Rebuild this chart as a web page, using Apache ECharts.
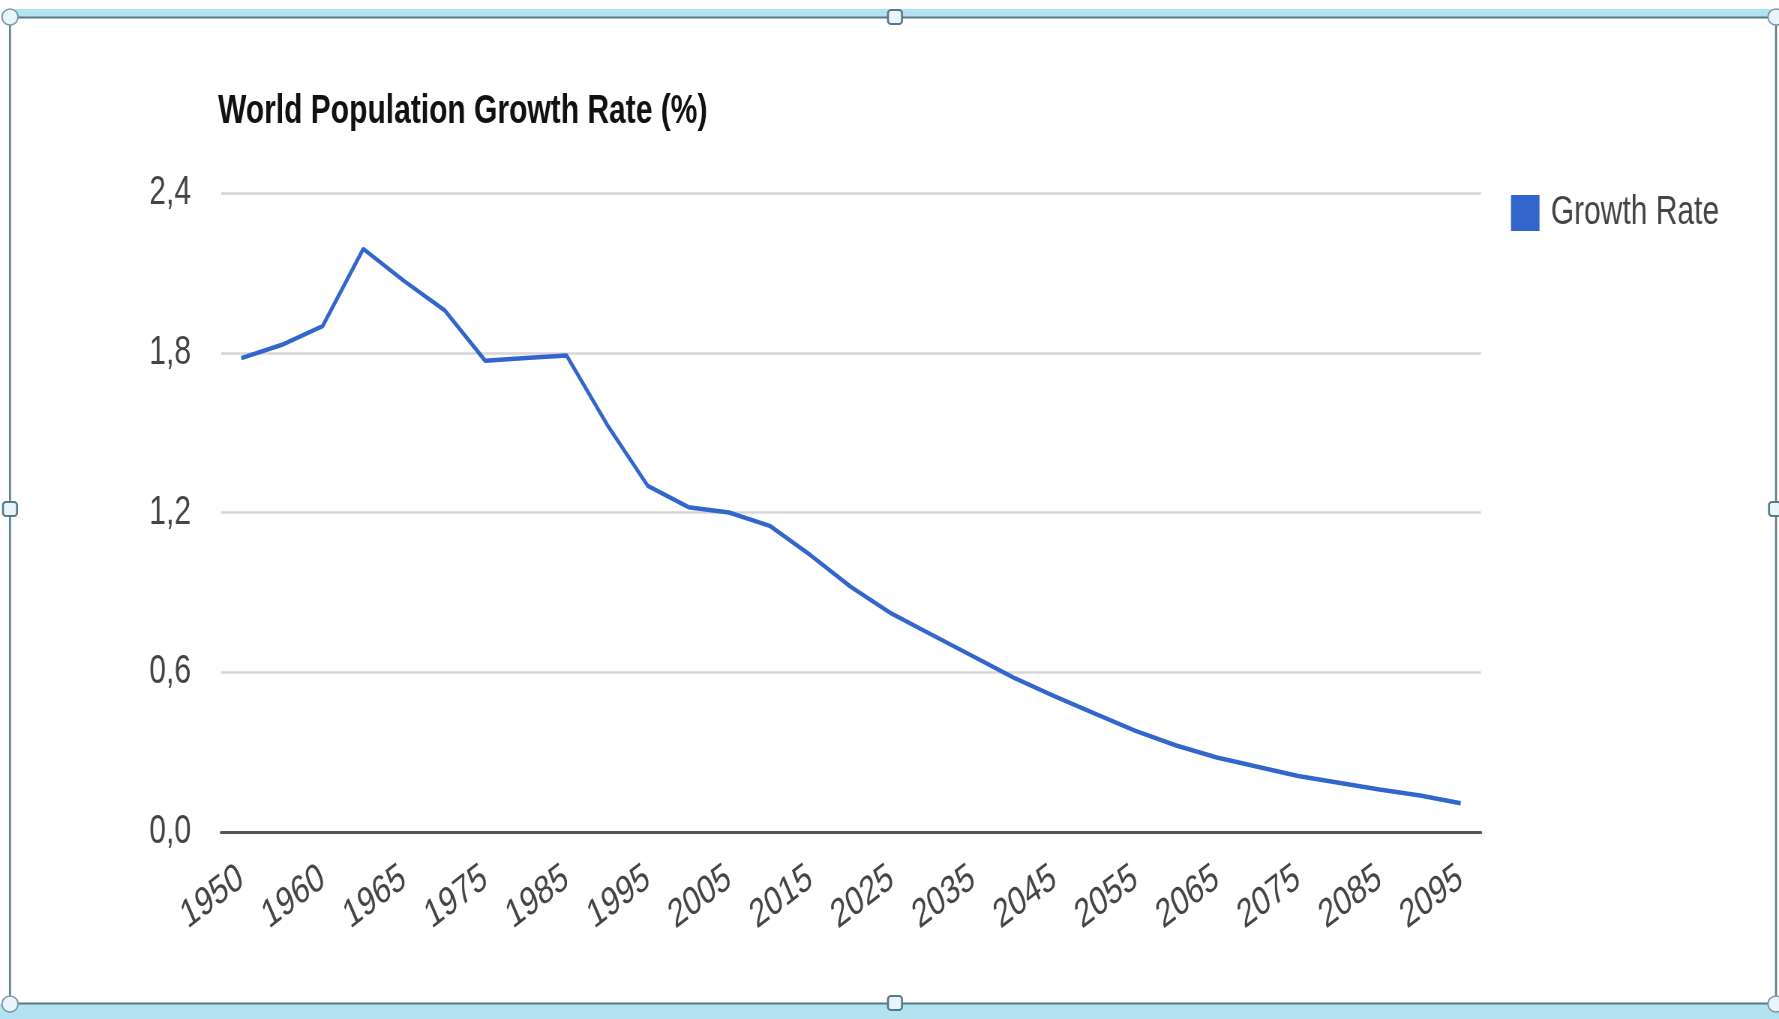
<!DOCTYPE html>
<html>
<head>
<meta charset="utf-8">
<title>World Population Growth Rate (%)</title>
<script src="https://cdn.jsdelivr.net/npm/echarts@6/dist/echarts.min.js"></script>
<style>
  html, body { margin: 0; padding: 0; background: #ffffff; }
  #wrap { width: 1779px; height: 1019px; overflow: hidden; position: relative; }
  /* the chart is laid out wider and squeezed horizontally, giving the narrow, tall lettering */
  #chart { width: 2372px; height: 1019px; transform: scaleX(0.75); transform-origin: 0 0; }
</style>
</head>
<body>
<div id="wrap"><div id="chart"></div></div>
<script>
// horizontal squeeze applied to the chart canvas
const SX = 0.75;

// years on the category axis
const years = [
  '1950', '1955', '1960', '1963', '1965', '1970', '1975', '1980', '1985', '1990',
  '1995', '2000', '2005', '2010', '2015', '2020', '2025', '2030', '2035', '2040',
  '2045', '2050', '2055', '2060', '2065', '2070', '2075', '2080', '2085', '2090',
  '2095'
];

// annual growth rate of world population, percent
const growthRate = [
  1.78, 1.83, 1.90, 2.19, 2.07, 1.96, 1.77, 1.78, 1.79, 1.53,
  1.30, 1.22, 1.20, 1.15, 1.04, 0.92, 0.82, 0.74, 0.66, 0.58,
  0.51, 0.445, 0.38, 0.325, 0.28, 0.245, 0.21, 0.185, 0.16, 0.137,
  0.108
];

// value axis ticks
const yTicks = [0, 0.6, 1.2, 1.8, 2.4];

const seriesName = 'Growth Rate';
const chartTitle = 'World Population Growth Rate (%)';

const FONT = '"Liberation Sans", Arial, Helvetica, sans-serif';
const X = v => v / SX; // page pixels -> chart pixels (horizontal)

// selection frame drawn around the chart
const frameStroke = '#58798a';
const bandFill = '#b3e3f1';
const handleFill = '#eaf5fb';

function handleSquare(cx, cy) {
  return {
    type: 'rect', x: X(cx), y: cy, scaleX: 1 / SX,
    shape: { x: -7, y: -7, width: 14, height: 14, r: 3 },
    style: { fill: handleFill, stroke: frameStroke, lineWidth: 2 },
    z: 10
  };
}
function handleCircle(cx, cy) {
  return {
    type: 'circle', x: X(cx), y: cy, scaleX: 1 / SX,
    shape: { cx: 0, cy: 0, r: 8 },
    style: { fill: handleFill, stroke: '#7d98a4', lineWidth: 1.5 },
    z: 10
  };
}

const frame = [
  { type: 'rect', shape: { x: X(10), y: 9, width: X(1766), height: 8 }, style: { fill: bandFill }, z: 5 },
  { type: 'rect', shape: { x: 0, y: 1004, width: X(1779), height: 15 }, style: { fill: bandFill }, z: 5 },
  { type: 'line', shape: { x1: X(10), y1: 17.5, x2: X(1776), y2: 17.5 }, style: { stroke: frameStroke, lineWidth: 2 }, z: 6 },
  { type: 'line', shape: { x1: X(10), y1: 1003.5, x2: X(1776), y2: 1003.5 }, style: { stroke: frameStroke, lineWidth: 2 }, z: 6 },
  { type: 'line', shape: { x1: X(10), y1: 17, x2: X(10), y2: 1004 }, style: { stroke: frameStroke, lineWidth: 2.5 }, z: 6 },
  { type: 'line', shape: { x1: X(1776), y1: 17, x2: X(1776), y2: 1004 }, style: { stroke: frameStroke, lineWidth: 2.5 }, z: 6 },
  handleCircle(10, 17), handleCircle(1776, 17), handleCircle(10, 1004), handleCircle(1776, 1004),
  handleSquare(895, 17), handleSquare(895, 1003), handleSquare(10, 509), handleSquare(1776, 509)
];

const chart = echarts.init(document.getElementById('chart'), null, { renderer: 'canvas' });

chart.setOption({
  animation: false,
  backgroundColor: '#ffffff',
  title: {
    text: chartTitle,
    left: X(218),
    top: 92,
    padding: 0,
    textStyle: { fontFamily: FONT, fontSize: 40, fontWeight: 'bold', color: '#111111' }
  },
  legend: {
    data: [seriesName],
    left: X(1511),
    top: 193,
    padding: 0,
    icon: 'rect',
    itemWidth: 38,
    itemHeight: 36,
    selectedMode: false,
    textStyle: { fontFamily: FONT, fontSize: 40, color: '#444444', padding: [0, 0, 0, 10] }
  },
  grid: {
    left: X(221),
    right: 2372 - X(1481),
    top: 193,
    bottom: 1019 - 832,
    containLabel: false
  },
  xAxis: {
    type: 'category',
    data: years,
    boundaryGap: true,
    axisLine: { show: true, lineStyle: { color: '#555555', width: 3 } },
    axisTick: { show: false },
    splitLine: { show: false },
    axisLabel: {
      interval: 1,
      rotate: 30,
      margin: 43,
      fontFamily: FONT,
      fontSize: 40,
      color: '#444444'
    }
  },
  yAxis: {
    type: 'value',
    min: yTicks[0],
    max: yTicks[yTicks.length - 1],
    interval: yTicks[1] - yTicks[0],
    axisLine: { show: false },
    axisTick: { show: false },
    splitLine: { lineStyle: { color: '#d6d6d6', width: 2.5 } },
    axisLabel: {
      margin: 40,
      fontFamily: FONT,
      fontSize: 40,
      color: '#444444',
      formatter: v => v.toFixed(1).replace('.', ',')
    }
  },
  series: [{
    name: seriesName,
    type: 'line',
    data: growthRate,
    showSymbol: false,
    symbol: 'none',
    lineStyle: { color: '#3366cc', width: 4.5 },
    itemStyle: { color: '#3366cc' },
    z: 3
  }],
  graphic: frame
});
</script>
</body>
</html>
